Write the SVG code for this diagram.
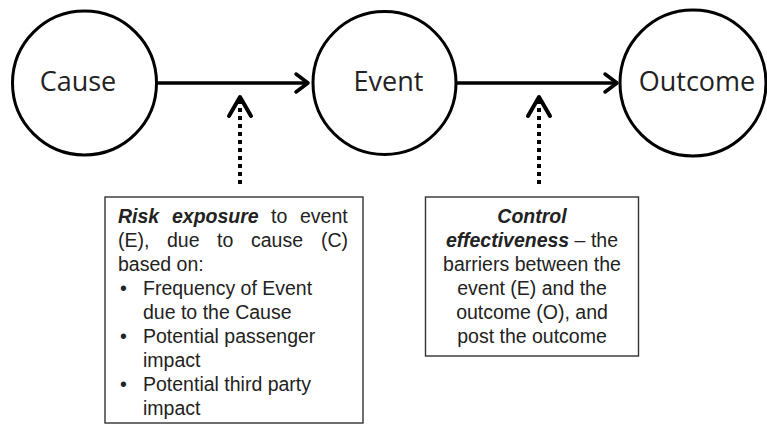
<svg xmlns="http://www.w3.org/2000/svg" width="767" height="426" viewBox="0 0 767 426">
  <style>
    .node circle { fill: #fff; stroke: #000; stroke-width: 3; }
    .label { font-family: "Open Sans", "Noto Sans", sans-serif; font-size: 27px; fill: #222; text-anchor: middle; }
    .flow { stroke: #000; stroke-width: 3.5; fill: none; }
    .head { stroke: #000; stroke-width: 3.5; fill: none; stroke-linecap: round; stroke-linejoin: round; }
    .influence { stroke: #000; stroke-width: 4; fill: none; stroke-dasharray: 4 4; }
    .ihead { stroke: #000; stroke-width: 4; fill: none; stroke-linecap: round; stroke-linejoin: round; }
    .box rect { fill: #fff; stroke: #333; stroke-width: 1.4; }
    .note { font-family: "Liberation Sans", Arial, sans-serif; font-size: 19.5px; fill: #222; }
    .bi { font-weight: bold; font-style: italic; }
    .mid { text-anchor: middle; }
  </style>

  <!-- main chain: cause -> event -> outcome -->
  <g id="connectors">
    <line class="flow" x1="157" y1="83" x2="306" y2="83"/>
    <polyline class="head" points="296,74 308,83 296,92"/>
    <line class="flow" x1="456" y1="83" x2="615" y2="83"/>
    <polyline class="head" points="605,74 617,83 605,92"/>

    <!-- dotted influence arrows from the notes -->
    <line class="influence" x1="240" y1="184" x2="240" y2="100"/>
    <polyline class="ihead" points="229,116 240,97 251,116"/>
    <line class="influence" x1="539" y1="184" x2="539" y2="100"/>
    <polyline class="ihead" points="528,116 539,97 550,116"/>
  </g>

  <g id="cause" class="node">
    <circle cx="84.5" cy="83" r="72"/>
    <text class="label" x="78" y="91">Cause</text>
  </g>

  <g id="event" class="node">
    <circle cx="384.5" cy="83" r="71.5"/>
    <text class="label" x="388.5" y="91">Event</text>
  </g>

  <g id="outcome" class="node">
    <circle cx="693" cy="83" r="73"/>
    <text class="label" x="697" y="91">Outcome</text>
  </g>

  <!-- justified lines are set word by word -->
  <g id="risk-exposure" class="box">
    <rect x="105" y="197" width="258" height="226"/>
    <text class="note" y="223">
      <tspan class="bi" x="118">Risk</tspan>
      <tspan class="bi" x="172">exposure</tspan>
      <tspan x="271">to</tspan>
      <tspan x="300">event</tspan>
    </text>
    <text class="note" y="247">
      <tspan x="118">(E),</tspan>
      <tspan x="167">due</tspan>
      <tspan x="217">to</tspan>
      <tspan x="251">cause</tspan>
      <tspan x="321">(C)</tspan>
    </text>
    <text class="note" x="118" y="271">based on:</text>
    <text class="note" x="120" y="295">•</text>
    <text class="note" x="143" y="295">Frequency of Event</text>
    <text class="note" x="143" y="319">due to the Cause</text>
    <text class="note" x="120" y="343">•</text>
    <text class="note" x="143" y="343">Potential passenger</text>
    <text class="note" x="143" y="367">impact</text>
    <text class="note" x="120" y="391">•</text>
    <text class="note" x="143" y="391">Potential third party</text>
    <text class="note" x="143" y="415">impact</text>
  </g>

  <g id="control-effectiveness" class="box">
    <rect x="425.5" y="197" width="213" height="159"/>
    <text class="note mid bi" x="532" y="223">Control</text>
    <text class="note mid" x="532" y="247"><tspan class="bi">effectiveness</tspan> – the</text>
    <text class="note mid" x="532" y="271">barriers between the</text>
    <text class="note mid" x="532" y="295">event (E) and the</text>
    <text class="note mid" x="532" y="319">outcome (O), and</text>
    <text class="note mid" x="532" y="343">post the outcome</text>
  </g>
</svg>
